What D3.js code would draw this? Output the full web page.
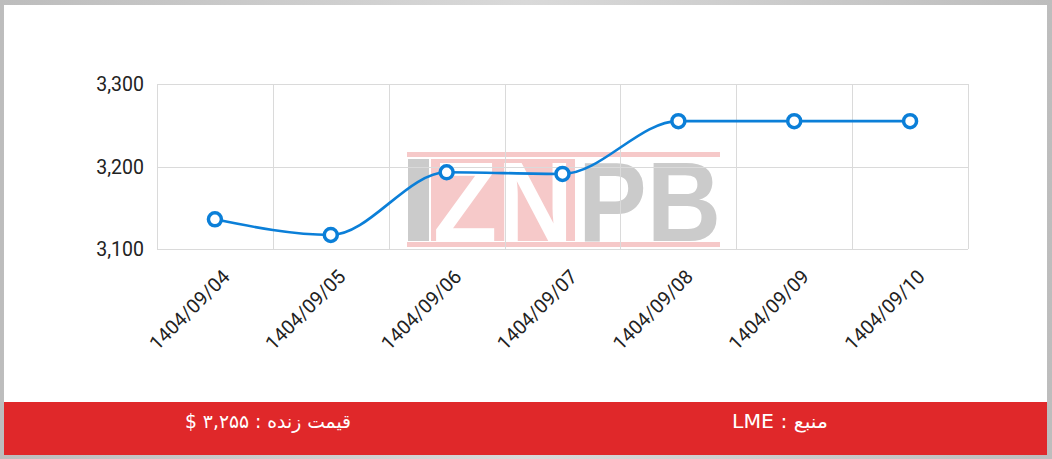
<!DOCTYPE html>
<html><head><meta charset="utf-8">
<script src="https://cdn.jsdelivr.net/npm/d3@7"></script>
<style>
html,body{margin:0;padding:0;background:#cdcdcd;overflow:hidden;}
svg{display:block;}
</style></head>
<body>
<svg id="c" width="1052" height="459"></svg>
<script>
const categories = ["1404/09/04","1404/09/05","1404/09/06","1404/09/07","1404/09/08","1404/09/09","1404/09/10"];
const values = [3136, 3117, 3193, 3191, 3255, 3255, 3255];
const yTicks = [3100, 3200, 3300];
const footerLeft = "قیمت زنده : ۳,۲۵۵ $";
const footerRight = "منبع : LME";

(function(){
const svg = d3.select("#c");
const W = 1052, H = 459;

// frame
const defs = svg.append("defs");
const g1 = defs.append("linearGradient").attr("id","fr").attr("x1","0").attr("x2","1");
g1.append("stop").attr("offset","0").attr("stop-color","#bdbdbd");
g1.append("stop").attr("offset","0.5").attr("stop-color","#d9d9d9");
g1.append("stop").attr("offset","1").attr("stop-color","#bdbdbd");
svg.append("rect").attr("width",W).attr("height",H).attr("fill","url(#fr)");
svg.append("rect").attr("x",4).attr("y",5).attr("width",1043).attr("height",450).attr("fill","#fff");

const pL = 157, pR = 968, pT = 84, pB = 249;
const x = d3.scaleBand().domain(categories).range([pL, pR]);
const y = d3.scaleLinear().domain([3100, 3300]).range([pB, pT]);

// watermark
const wm = svg.append("g");
wm.append("rect").attr("x",407).attr("y",152).attr("width",313).attr("height",5).attr("fill","#f6c9c9");
wm.append("rect").attr("x",407).attr("y",242).attr("width",313).attr("height",5).attr("fill","#f6c9c9");
wm.append("rect").attr("x",408).attr("y",159).attr("width",21).attr("height",82).attr("fill","#cbcbcb");
wm.append("rect").attr("x",431).attr("y",159).attr("width",144).attr("height",82).attr("fill","#f6c9c9");
wm.append("text").attr("x",433).attr("y",241).attr("font-family","Liberation Sans, Arial, sans-serif")
  .attr("font-weight","bold").attr("font-size",113).attr("fill","#fff")
  .attr("textLength",140).attr("lengthAdjust","spacingAndGlyphs").text("ZN");
wm.append("text").attr("x",578).attr("y",241).attr("font-family","Liberation Sans, Arial, sans-serif")
  .attr("font-weight","bold").attr("font-size",113).attr("fill","#cbcbcb")
  .attr("textLength",143).attr("lengthAdjust","spacingAndGlyphs").text("PB");

// grid
const grid = svg.append("g").attr("stroke","#dadada").attr("stroke-width",1).attr("fill","none");
const xs = categories.map(c => x(c)).concat([pR]);
grid.selectAll("line.v").data(xs).join("line").attr("class","v")
  .attr("x1",d=>Math.round(d)+0.5).attr("x2",d=>Math.round(d)+0.5).attr("y1",pT).attr("y2",pB);
grid.selectAll("line.h").data(yTicks).join("line").attr("class","h")
  .attr("x1",pL).attr("x2",pR).attr("y1",d=>Math.round(y(d))+0.5).attr("y2",d=>Math.round(y(d))+0.5);

// y axis labels
const fmt = d3.format(",");
const yAxis = d3.axisLeft(y).tickValues(yTicks).tickFormat(fmt).tickSize(0).tickPadding(13);
const ya = svg.append("g").attr("transform",`translate(${pL},0)`).call(yAxis);
ya.select(".domain").remove();
ya.selectAll("text").attr("font-family","Roboto, sans-serif").attr("font-size",19.5).attr("fill","#222").attr("dy","0.35em");

// x axis labels
const xAxis = d3.axisBottom(x).tickSize(0).tickPadding(0);
const xa = svg.append("g").attr("transform",`translate(0,${pB})`).call(xAxis);
xa.select(".domain").remove();
xa.selectAll("text").attr("font-family","Roboto, sans-serif").attr("font-size",19.5).attr("fill","#222")
  .attr("text-anchor","end").attr("dy",null).attr("y",0)
  .attr("transform","translate(16,29) rotate(-45)");

// line
const pts = categories.map((c,i)=>({cx:x(c)+x.bandwidth()/2, cy:y(values[i])}));
const line = d3.line().x(d=>d.cx).y(d=>d.cy).curve(d3.curveMonotoneX);
svg.append("path").attr("d",line(pts)).attr("fill","none").attr("stroke","#0b7fd8").attr("stroke-width",2.6);
svg.selectAll("circle.p").data(pts).join("circle").attr("class","p")
  .attr("cx",d=>d.cx).attr("cy",d=>d.cy).attr("r",6.5)
  .attr("fill","#fff").attr("stroke","#0b7fd8").attr("stroke-width",3.5);

// footer
svg.append("rect").attr("x",4).attr("y",402).attr("width",1043).attr("height",53).attr("fill","#e0282a");
const ff = "'DejaVu Sans Condensed','DejaVu Sans',sans-serif";
svg.append("text").attr("x",268).attr("y",428).attr("text-anchor","middle").attr("direction","rtl")
  .attr("font-family",ff).attr("font-size",19).attr("fill","#fff")
  .attr("textLength",166).attr("lengthAdjust","spacingAndGlyphs").text(footerLeft);
svg.append("text").attr("x",780).attr("y",428).attr("text-anchor","middle").attr("direction","rtl")
  .attr("font-family",ff).attr("font-size",19).attr("fill","#fff")
  .attr("textLength",96).attr("lengthAdjust","spacingAndGlyphs").text(footerRight);
})();
</script>
</body></html>
